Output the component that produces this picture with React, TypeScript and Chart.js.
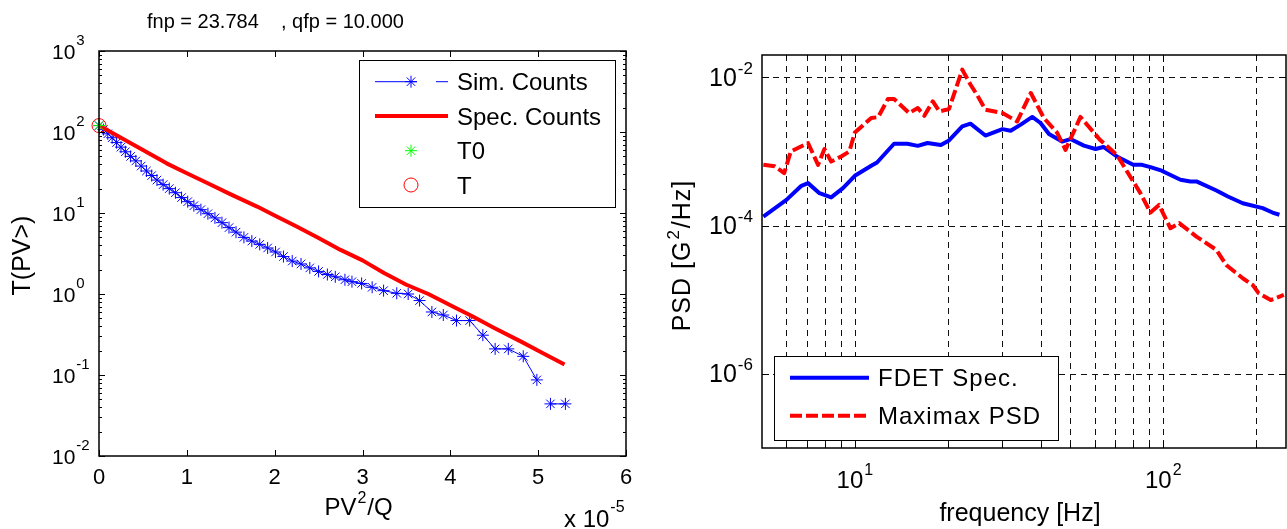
import React, { useEffect, useRef } from 'react';
import { Chart, registerables } from 'chart.js';

Chart.register(...registerables);

const FONT = "'Liberation Sans', Arial, Helvetica, sans-serif";

// ---------- Left chart data (x in units of 1e-5) ----------
const leftTitle = 'fnp = 23.784    , qfp = 10.000';
const simX = [0, 0.05, 0.1, 0.15, 0.2, 0.25, 0.3, 0.36, 0.42, 0.48, 0.54, 0.6, 0.66, 0.73, 0.8, 0.87, 0.94, 1.01, 1.08, 1.16, 1.24, 1.32, 1.4, 1.48, 1.56, 1.65, 1.74, 1.83, 1.92, 2.01, 2.1, 2.2, 2.3, 2.4, 2.5, 2.6, 2.69, 2.8, 2.88, 2.99, 3.11, 3.24, 3.39, 3.52, 3.65, 3.79, 3.92, 4.07, 4.22, 4.37, 4.51, 4.66, 4.83, 4.985, 5.06, 5.14, 5.31];
const simT = [120, 107, 95, 85, 74, 65, 57, 50, 44, 38, 33, 29, 25.5, 22.4, 20, 17.8, 15.5, 13.8, 12.3, 11, 9.8, 8.7, 7.6, 6.6, 5.8, 5.0, 4.5, 4.1, 3.7, 3.3, 2.9, 2.55, 2.35, 2.1, 1.9, 1.74, 1.63, 1.5, 1.42, 1.35, 1.21, 1.1, 1.02, 1.0, 0.83, 0.6, 0.55, 0.47, 0.47, 0.31, 0.21, 0.21, 0.17, 0.087, null, 0.044, 0.044];
const specX = [0, 0.25, 0.5, 0.77, 1.0, 1.25, 1.5, 1.8, 2.0, 2.25, 2.5, 2.75, 3.0, 3.25, 3.5, 3.75, 4.04, 4.25, 4.5, 4.8, 5.05, 5.3];
const specT = [120, 85, 60, 41, 31, 23, 17, 12, 9.3, 6.8, 4.9, 3.5, 2.6, 1.8, 1.3, 1.0, 0.69, 0.53, 0.38, 0.26, 0.187, 0.135];
const t0X = [0];
const t0T = [120];
const tX = [0];
const tT = [120];
const leftXTicks = [0, 1, 2, 3, 4, 5, 6];
const leftYExps = [-2, -1, 0, 1, 2, 3];
const leftLegend = ['Sim. Counts', 'Spec. Counts', 'T0', 'T'];

// ---------- Right chart data ----------
const fdetFreq = [5.05, 6.0, 6.71, 7.05, 7.68, 8.38, 9.15, 10.0, 11.3, 11.8, 13.4, 14.8, 16.0, 17.2, 19.0, 20.2, 22.3, 23.7, 26.5, 30.1, 32.0, 34.5, 37.6, 40.0, 42.6, 47.0, 50.0, 55.3, 60.3, 64.0, 70.7, 79.9, 85.3, 90.9, 98.8, 113.7, 122.5, 128.1, 148.7, 162, 181, 210, 226, 238];
const fdetPsd = [1.32e-4, 2.22e-4, 3.44e-4, 3.74e-4, 2.74e-4, 2.4e-4, 3.2e-4, 4.7e-4, 6.4e-4, 7.1e-4, 1.27e-3, 1.27e-3, 1.19e-3, 1.3e-3, 1.22e-3, 1.41e-3, 2.18e-3, 2.37e-3, 1.64e-3, 2.0e-3, 1.9e-3, 2.3e-3, 2.92e-3, 2.42e-3, 1.72e-3, 1.36e-3, 1.47e-3, 1.2e-3, 1.08e-3, 1.15e-3, 8.55e-4, 6.6e-4, 6.6e-4, 6.15e-4, 5.5e-4, 4.15e-4, 3.94e-4, 3.94e-4, 2.97e-4, 2.47e-4, 2.0e-4, 1.72e-4, 1.5e-4, 1.4e-4];
const maxFreq = [5.05, 5.5, 5.9, 6.2, 7.05, 7.6, 7.97, 8.38, 9.03, 9.6, 10.0, 11.3, 11.9, 12.8, 13.4, 15.0, 16.0, 16.8, 17.9, 18.8, 20.2, 22.3, 23.7, 24.9, 26.5, 30.1, 33.6, 37.2, 41.0, 45.3, 48.2, 53.9, 62.3, 70.7, 84.3, 90.9, 96.9, 105.5, 112.6, 128.1, 148.7, 160, 181, 195, 204, 223, 246];
const maxPsd = [6.6e-4, 6.3e-4, 5.1e-4, 1.0e-3, 1.3e-3, 6.6e-4, 1.08e-3, 7.3e-4, 8.55e-4, 1.0e-3, 1.8e-3, 2.83e-3, 2.9e-3, 5.1e-3, 5.1e-3, 3.3e-3, 3.86e-3, 3.03e-3, 4.74e-3, 3.47e-3, 3.74e-3, 1.27e-2, 8.0e-3, 5.8e-3, 3.66e-3, 3.3e-3, 2.54e-3, 6.15e-3, 2.83e-3, 1.78e-3, 1.05e-3, 2.92e-3, 1.44e-3, 9.0e-4, 2.74e-4, 1.5e-4, 1.9e-4, 9.2e-5, 1.08e-4, 7.1e-5, 4.7e-5, 2.94e-5, 1.95e-5, 1.58e-5, 1.22e-5, 9.9e-6, 1.16e-5];
const rightXExps = [1, 2];
const rightYExps = [-2, -4, -6];
const rightGridFreqs = [6, 7, 8, 9, 10, 20, 30, 40, 50, 60, 70, 80, 90, 100, 200];
const rightLegend = ['FDET Spec.', 'Maximax PSD'];

const BLUE = '#0000ff';
const RED = '#ff0000';
const GREEN = '#00ff00';

type Part = { t: string; sup?: boolean };

function setFont(ctx: CanvasRenderingContext2D, size: number) {
  ctx.font = `${size}px ${FONT}`;
}

function drawRich(
  ctx: CanvasRenderingContext2D,
  parts: Part[],
  x: number,
  baseline: number,
  size: number,
  supSize: number,
  raise: number,
  align: 'left' | 'center',
  spacing = 0
) {
  (ctx as any).letterSpacing = `${spacing}px`;
  ctx.textAlign = 'left';
  ctx.textBaseline = 'alphabetic';
  const widths = parts.map((p) => {
    setFont(ctx, p.sup ? supSize : size);
    return ctx.measureText(p.t).width;
  });
  const total = widths.reduce((a, b) => a + b, 0) + (parts.length - 1);
  let cx = align === 'center' ? x - total / 2 : x;
  parts.forEach((p, i) => {
    setFont(ctx, p.sup ? supSize : size);
    ctx.fillText(p.t, cx, p.sup ? baseline - raise : baseline);
    cx += widths[i] + 1;
  });
  (ctx as any).letterSpacing = '0px';
}

function seg(ctx: CanvasRenderingContext2D, x1: number, y1: number, x2: number, y2: number) {
  ctx.beginPath();
  ctx.moveTo(x1, y1);
  ctx.lineTo(x2, y2);
  ctx.stroke();
}

function star(ctx: CanvasRenderingContext2D, x: number, y: number, r: number, color: string) {
  ctx.save();
  ctx.strokeStyle = color;
  ctx.lineWidth = 1;
  seg(ctx, x - r, y, x + r, y);
  seg(ctx, x, y - r, x, y + r);
  const d = r * Math.SQRT1_2;
  seg(ctx, x - d, y - d, x + d, y + d);
  seg(ctx, x - d, y + d, x + d, y - d);
  ctx.restore();
}

const leftDeco = {
  id: 'leftDeco',
  afterDatasetsDraw(chart: any) {
    const ctx: CanvasRenderingContext2D = chart.ctx;
    const xs = chart.scales.x;
    const ys = chart.scales.y;
    const { left, right, top, bottom } = chart.chartArea;
    ctx.save();
    ctx.strokeStyle = '#000';
    ctx.lineWidth = 1.5;
    ctx.setLineDash([]);
    ctx.strokeRect(left, top, right - left, bottom - top);
    ctx.lineWidth = 1;
    for (const v of leftXTicks) {
      const px = Math.round(xs.getPixelForValue(v)) + 0.5;
      seg(ctx, px, bottom, px, bottom - 6);
      seg(ctx, px, top, px, top + 6);
    }
    for (let i = 0; i < leftYExps.length; i++) {
      const e = leftYExps[i];
      for (let m = 1; m <= 9; m++) {
        const v = m * Math.pow(10, e);
        if (v > 1000) break;
        const py = Math.round(ys.getPixelForValue(v)) + 0.5;
        const len = m === 1 ? 6 : 3;
        seg(ctx, left, py, left + len, py);
        seg(ctx, right, py, right - len, py);
      }
    }
    ctx.restore();
  },
  afterDraw(chart: any) {
    const ctx: CanvasRenderingContext2D = chart.ctx;
    const xs = chart.scales.x;
    const ys = chart.scales.y;
    const { left, right, top, bottom } = chart.chartArea;
    ctx.save();
    ctx.fillStyle = '#000';
    // title
    drawRich(ctx, [{ t: leftTitle }], 147, 28, 20, 14, 0, 'left');
    // x tick labels
    for (const v of leftXTicks) {
      const px = xs.getPixelForValue(v);
      setFont(ctx, 22);
      ctx.textAlign = 'center';
      ctx.textBaseline = 'alphabetic';
      ctx.fillText(String(v), px, bottom + 28);
    }
    // y tick labels
    for (const e of leftYExps) {
      const py = ys.getPixelForValue(Math.pow(10, e));
      drawRich(ctx, [{ t: '10' }, { t: String(e), sup: true }], left - 47, py + 7.5, 21, 15, 14, 'left');
    }
    // axis labels
    drawRich(ctx, [{ t: 'PV' }, { t: '2', sup: true }, { t: '/Q' }], (left + right) / 2 - 4, 515, 24, 16, 12, 'center');
    drawRich(ctx, [{ t: 'x 10' }, { t: '-5', sup: true }], 564, 527, 24, 16, 15, 'left');
    ctx.save();
    ctx.translate(30, (top + bottom) / 2 + 2);
    ctx.rotate(-Math.PI / 2);
    drawRich(ctx, [{ t: 'T(PV>)' }], 0, 0, 25, 16, 0, 'center');
    ctx.restore();

    // legend
    const bx = 359, by = 60, bw = 256, bh = 147;
    ctx.fillStyle = '#fff';
    ctx.fillRect(bx, by, bw, bh);
    ctx.strokeStyle = '#000';
    ctx.lineWidth = 1;
    ctx.strokeRect(bx + 0.5, by + 0.5, bw, bh);
    const rows = [81.7, 116, 150.7, 185];
    // Sim. Counts
    ctx.strokeStyle = BLUE;
    ctx.lineWidth = 1;
    seg(ctx, 375, rows[0], 417, rows[0]);
    seg(ctx, 436, rows[0], 448, rows[0]);
    star(ctx, 411, rows[0], 6, BLUE);
    // Spec. Counts
    ctx.strokeStyle = RED;
    ctx.lineWidth = 4;
    seg(ctx, 375, rows[1], 448, rows[1]);
    // T0
    star(ctx, 411, rows[2], 6, GREEN);
    // T
    ctx.strokeStyle = RED;
    ctx.lineWidth = 1;
    ctx.beginPath();
    ctx.arc(411, rows[3], 7, 0, Math.PI * 2);
    ctx.stroke();
    ctx.fillStyle = '#000';
    leftLegend.forEach((txt, i) => {
      drawRich(ctx, [{ t: txt }], 457, rows[i] + 8.6, 24, 16, 0, 'left');
    });
    ctx.restore();
  },
};

const rightDeco = {
  id: 'rightDeco',
  beforeDatasetsDraw(chart: any) {
    const ctx: CanvasRenderingContext2D = chart.ctx;
    const xs = chart.scales.x;
    const ys = chart.scales.y;
    const { left, right, top, bottom } = chart.chartArea;
    ctx.save();
    ctx.strokeStyle = '#111';
    ctx.lineWidth = 1;
    ctx.setLineDash([6, 5]);
    for (const f of rightGridFreqs) {
      const px = Math.round(xs.getPixelForValue(f)) + 0.5;
      seg(ctx, px, top, px, bottom);
    }
    for (const e of rightYExps) {
      const py = Math.round(ys.getPixelForValue(Math.pow(10, e))) + 0.5;
      seg(ctx, left, py, right, py);
    }
    ctx.restore();
  },
  afterDatasetsDraw(chart: any) {
    const ctx: CanvasRenderingContext2D = chart.ctx;
    const xs = chart.scales.x;
    const ys = chart.scales.y;
    const { left, right, top, bottom } = chart.chartArea;
    ctx.save();
    ctx.setLineDash([]);
    ctx.strokeStyle = '#000';
    ctx.lineWidth = 1.5;
    ctx.strokeRect(left, top, right - left, bottom - top);
    ctx.lineWidth = 1;
    for (const f of rightGridFreqs) {
      const px = Math.round(xs.getPixelForValue(f)) + 0.5;
      const len = f === 10 || f === 100 ? 7 : 4;
      seg(ctx, px, bottom, px, bottom - len);
      seg(ctx, px, top, px, top + len);
    }
    for (const e of rightYExps) {
      const py = Math.round(ys.getPixelForValue(Math.pow(10, e))) + 0.5;
      seg(ctx, left, py, left + 7, py);
      seg(ctx, right, py, right - 7, py);
    }
    ctx.restore();
  },
  afterDraw(chart: any) {
    const ctx: CanvasRenderingContext2D = chart.ctx;
    const xs = chart.scales.x;
    const ys = chart.scales.y;
    const { left, right, top, bottom } = chart.chartArea;
    ctx.save();
    ctx.fillStyle = '#000';
    for (const e of rightXExps) {
      const px = xs.getPixelForValue(Math.pow(10, e));
      drawRich(ctx, [{ t: '10' }, { t: String(e), sup: true }], px, bottom + 40, 24, 16, 13, 'center');
    }
    for (const e of rightYExps) {
      const py = ys.getPixelForValue(Math.pow(10, e));
      drawRich(ctx, [{ t: '10' }, { t: String(e), sup: true }], left - 53, py + 8.5, 25, 17, 12, 'left');
    }
    drawRich(ctx, [{ t: 'frequency [Hz]' }], (left + right) / 2 - 4, 521, 25, 16, 0, 'center');
    ctx.save();
    ctx.translate(40, (top + bottom) / 2 + 4);
    ctx.rotate(-Math.PI / 2);
    drawRich(ctx, [{ t: 'PSD [G' }, { t: '2', sup: true }, { t: '/Hz]' }], 0, 0, 25, 17, 11, 'center', 1);
    ctx.restore();

    // legend (page x 774-1058, y 356-440; canvas offset 650)
    const bx = 124, by = 356, bw = 284, bh = 84;
    ctx.fillStyle = '#fff';
    ctx.fillRect(bx, by, bw, bh);
    ctx.strokeStyle = '#000';
    ctx.lineWidth = 1;
    ctx.setLineDash([]);
    ctx.strokeRect(bx + 0.5, by + 0.5, bw, bh);
    const rows = [377.7, 415.7];
    ctx.lineWidth = 4;
    ctx.strokeStyle = BLUE;
    seg(ctx, 140, rows[0], 219, rows[0]);
    ctx.strokeStyle = RED;
    ctx.setLineDash([12, 4]);
    seg(ctx, 140, rows[1], 219, rows[1]);
    ctx.setLineDash([]);
    ctx.fillStyle = '#000';
    rightLegend.forEach((txt, i) => {
      drawRich(ctx, [{ t: txt }], 228, rows[i] + 8.6, 24, 16, 0, 'left', 1);
    });
    ctx.restore();
  },
};

function pts(xs: number[], ys: (number | null)[]) {
  return xs.map((x, i) => ({ x, y: ys[i] }));
}

export default function App() {
  const leftRef = useRef<HTMLCanvasElement>(null);
  const rightRef = useRef<HTMLCanvasElement>(null);

  useEffect(() => {
    const c1 = new Chart(leftRef.current as HTMLCanvasElement, {
      type: 'line',
      data: {
        datasets: [
          {
            label: 'T',
            data: pts(tX, tT),
            showLine: false,
            pointStyle: 'circle',
            pointRadius: 7,
            pointBorderColor: RED,
            pointBackgroundColor: 'rgba(0,0,0,0)',
            pointBorderWidth: 1,
            borderColor: RED,
            clip: false,
            order: 0,
          } as any,
          {
            label: 'T0',
            data: pts(t0X, t0T),
            showLine: false,
            pointStyle: 'star',
            pointRadius: 6,
            pointBorderColor: GREEN,
            pointBorderWidth: 1,
            borderColor: GREEN,
            clip: false,
            order: 1,
          } as any,
          {
            label: 'Spec. Counts',
            data: pts(specX, specT),
            borderColor: RED,
            borderWidth: 4,
            pointRadius: 0,
            borderJoinStyle: 'round',
            clip: false,
            order: 2,
          } as any,
          {
            label: 'Sim. Counts',
            data: pts(simX, simT),
            borderColor: BLUE,
            borderWidth: 1,
            pointStyle: 'star',
            pointRadius: 6,
            pointBorderColor: BLUE,
            pointBackgroundColor: BLUE,
            pointBorderWidth: 1,
            spanGaps: false,
            clip: false,
            order: 3,
          } as any,
        ],
      },
      options: {
        animation: false,
        responsive: false,
        devicePixelRatio: 1,
        events: [],
        layout: { padding: { left: 99, top: 51, right: 24, bottom: 73 } },
        plugins: { legend: { display: false }, title: { display: false }, tooltip: { enabled: false } },
        scales: {
          x: { type: 'linear', min: 0, max: 6, display: false },
          y: { type: 'logarithmic', min: 0.01, max: 1000, display: false },
        },
      } as any,
      plugins: [leftDeco as any],
    });

    const c2 = new Chart(rightRef.current as HTMLCanvasElement, {
      type: 'line',
      data: {
        datasets: [
          {
            label: rightLegend[1],
            data: pts(maxFreq, maxPsd),
            borderColor: RED,
            borderWidth: 4,
            borderDash: [12, 4],
            pointRadius: 0,
            borderJoinStyle: 'round',
            order: 0,
          } as any,
          {
            label: rightLegend[0],
            data: pts(fdetFreq, fdetPsd),
            borderColor: BLUE,
            borderWidth: 4,
            pointRadius: 0,
            borderJoinStyle: 'round',
            order: 1,
          } as any,
        ],
      },
      options: {
        animation: false,
        responsive: false,
        devicePixelRatio: 1,
        events: [],
        layout: { padding: { left: 112, top: 55, right: 1, bottom: 81 } },
        plugins: { legend: { display: false }, title: { display: false }, tooltip: { enabled: false } },
        scales: {
          x: { type: 'logarithmic', min: 5, max: 250, display: false },
          y: { type: 'logarithmic', min: 1e-7, max: 2e-2, display: false },
        },
      } as any,
      plugins: [rightDeco as any],
    });

    return () => {
      c1.destroy();
      c2.destroy();
    };
  }, []);

  return (
    <div style={{ position: 'absolute', left: 0, top: 0, width: 1287, height: 529, background: '#fff', overflow: 'hidden' }}>
      <canvas ref={leftRef} width={650} height={529} style={{ position: 'absolute', left: 0, top: 0, width: 650, height: 529 }} />
      <canvas ref={rightRef} width={637} height={529} style={{ position: 'absolute', left: 650, top: 0, width: 637, height: 529 }} />
    </div>
  );
}
